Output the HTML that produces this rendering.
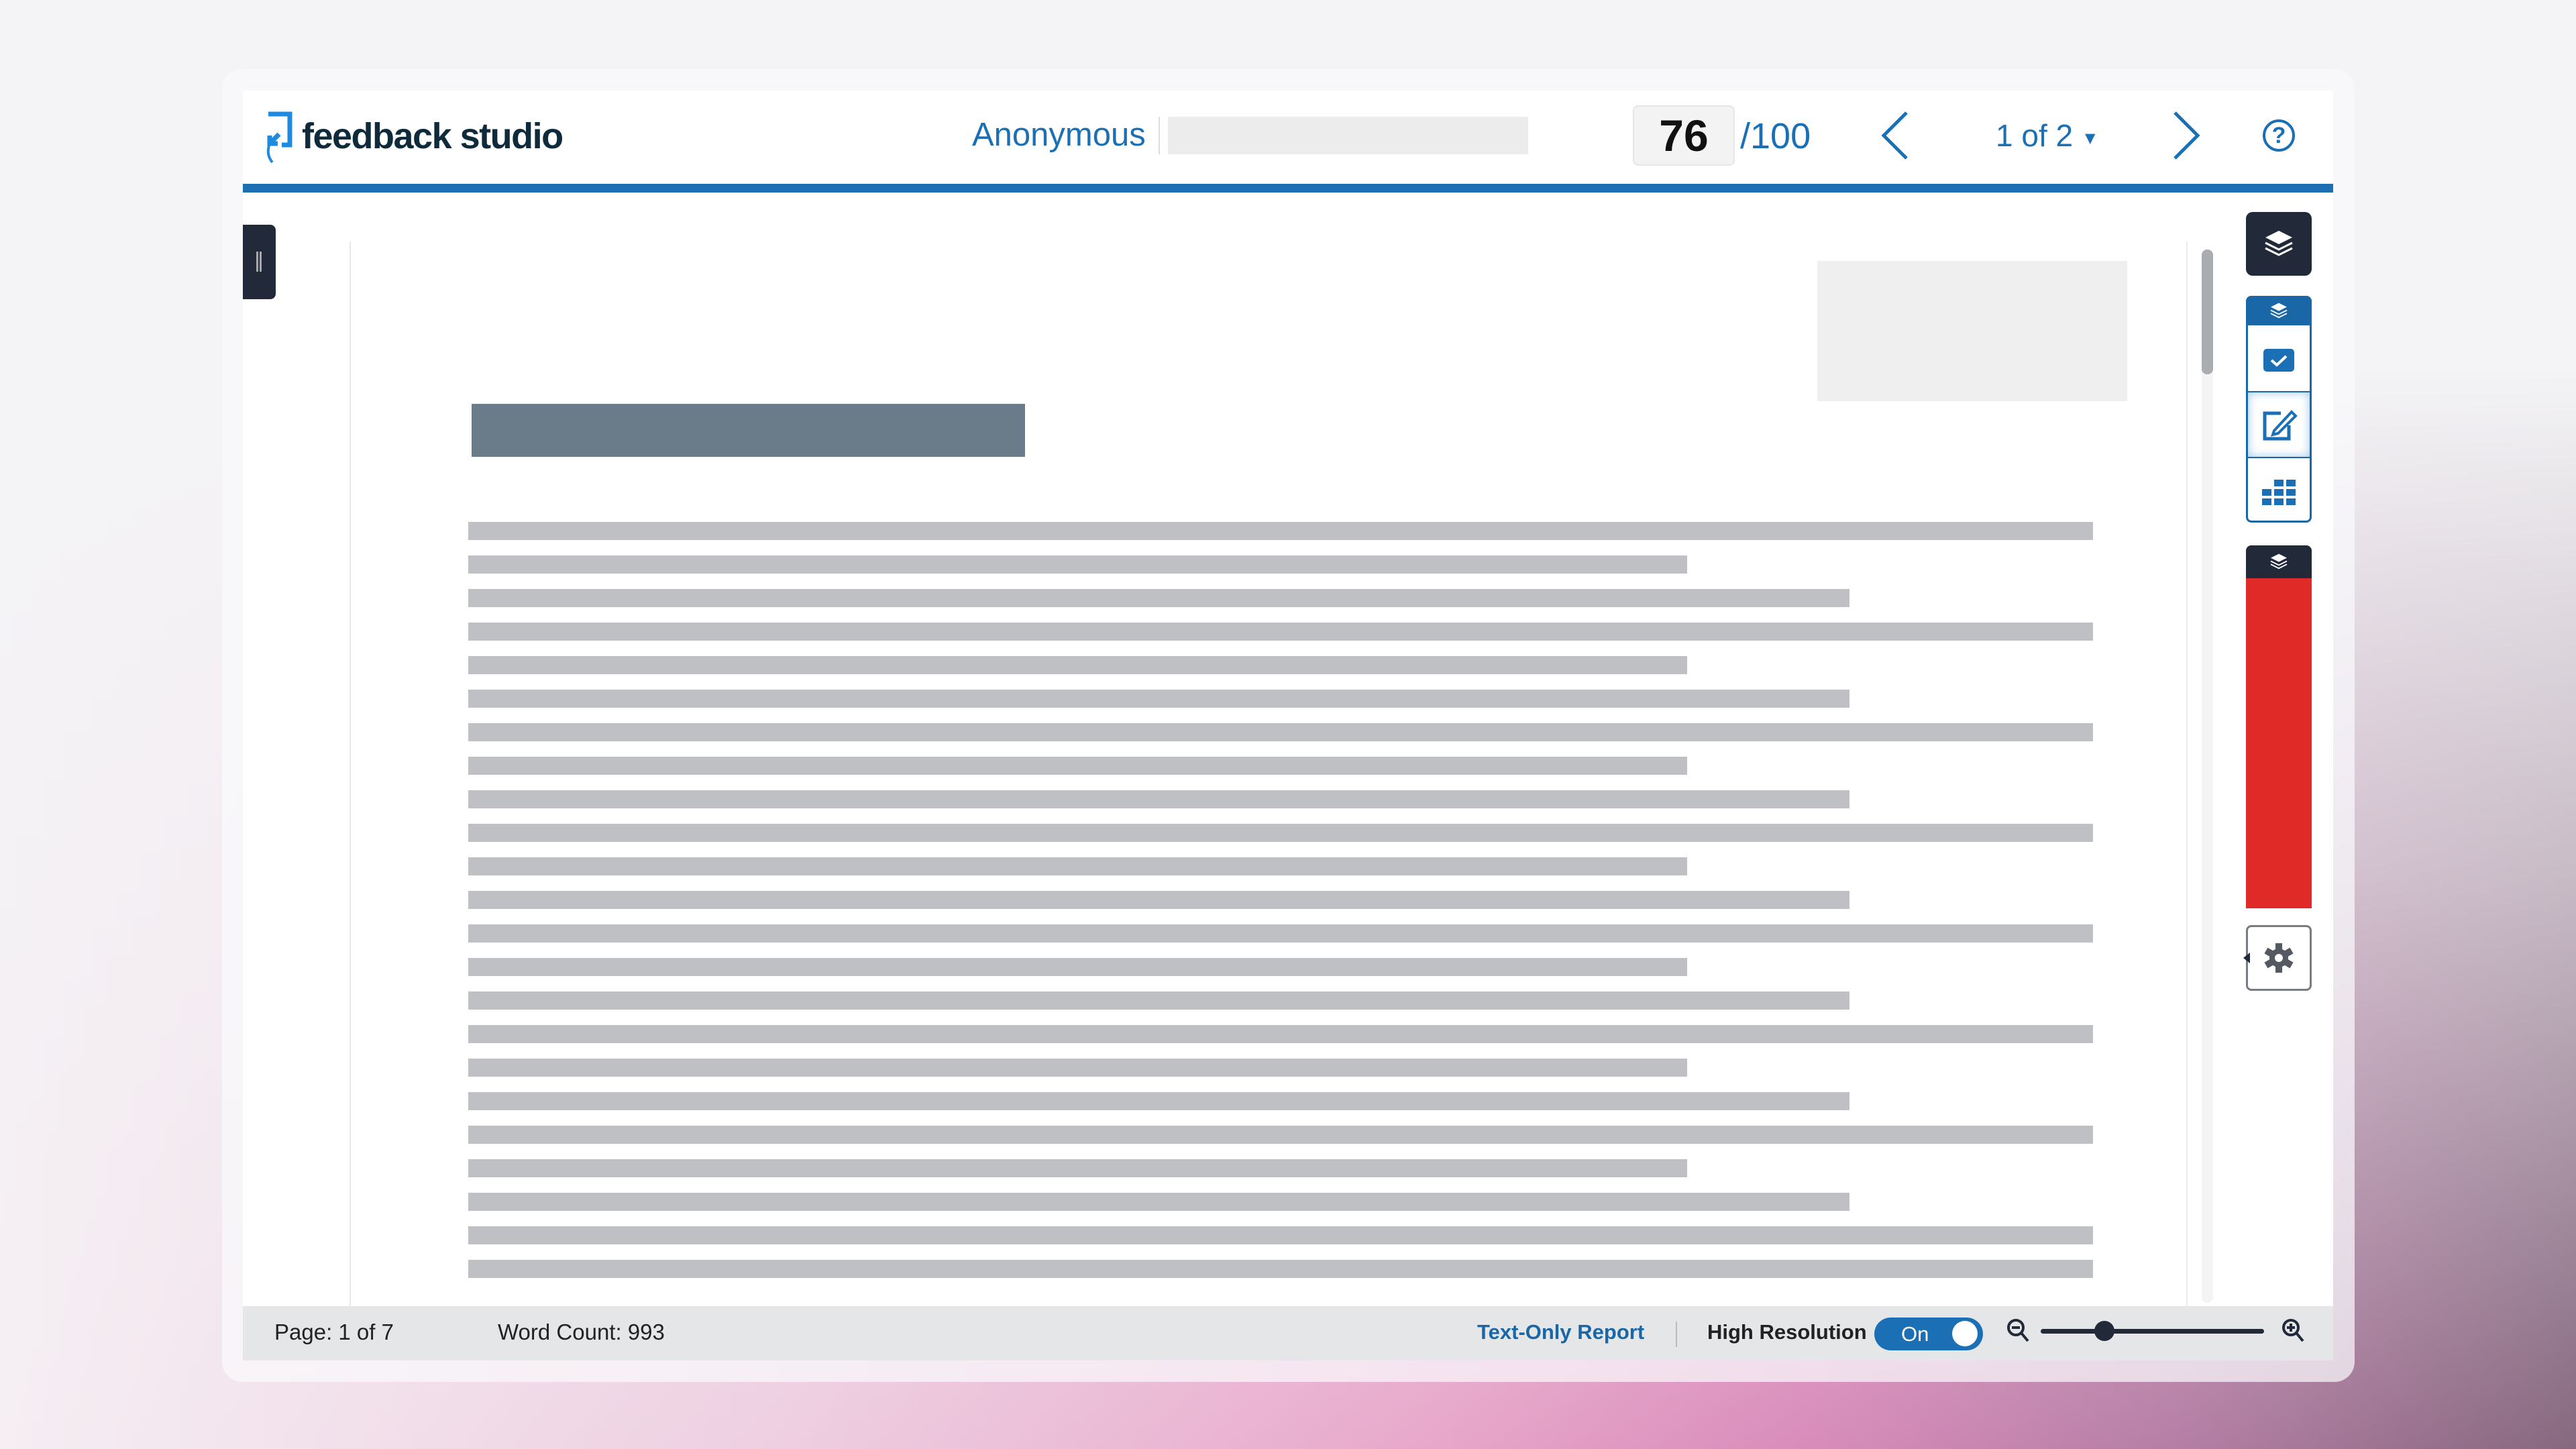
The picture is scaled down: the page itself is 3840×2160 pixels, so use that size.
<!DOCTYPE html>
<html><head><meta charset="utf-8"><style>
*{margin:0;padding:0;box-sizing:border-box}
body{width:3840px;height:2160px;overflow:hidden;position:relative;font-family:"Liberation Sans",sans-serif;
background:
linear-gradient(180deg,#f4f4f6 0%,#f4f4f6 25%,rgba(244,244,246,0.6) 60%,rgba(244,244,246,0) 100%),
linear-gradient(90deg,#f5eef3 0%,#eecfe1 30%,#e8a8cb 55%,#d98cba 70%,#b47ea4 85%,#86687f 100%);}
.abs{position:absolute}
.frame{left:331px;top:103px;width:3179px;height:1957px;border-radius:30px;background:rgba(250,250,252,.72)}
.panel{left:362px;top:135px;width:3116px;height:1893px;background:#fff}
.line{position:absolute;left:698px;height:27px;background:#bfc0c3}
.hdr{font-size:49px;color:#1a6fb5}
.tb{background:#fff;border:3px solid #1a67a8;border-radius:8px}
</style></head><body>
<div class="abs frame"></div>
<div class="abs panel"></div>
<!-- header -->
<svg class="abs" style="left:392px;top:166px" width="50" height="80" viewBox="0 0 50 80"><path d="M8 4 H40 V50 H28 M24 34 L10 48 M10 36 V48 H22" stroke="#1e8be0" stroke-width="7" fill="none"/><path d="M10 48 Q4 64 14 76" stroke="#1e8be0" stroke-width="4" fill="none"/></svg>
<div class="abs" style="left:450px;top:172px;font-size:54px;color:#0f2a3a;font-weight:bold;letter-spacing:-1.5px">feedback studio</div>
<div class="abs hdr" style="left:1449px;top:173px">Anonymous</div>
<div class="abs" style="left:1727px;top:174px;width:2px;height:56px;background:#ddd"></div>
<div class="abs" style="left:1741px;top:174px;width:537px;height:56px;background:#ececec"></div>
<div class="abs" style="left:2434px;top:157px;width:152px;height:90px;background:#f3f3f3;border:2px solid #e6e6e6;border-radius:8px;text-align:center;font-size:66px;font-weight:bold;line-height:86px;color:#111">76</div>
<div class="abs hdr" style="left:2594px;top:172px;font-size:54px">/100</div>
<svg class="abs" style="left:2800px;top:164px" width="50" height="76"><path d="M42 4 L8 38 L42 72" stroke="#1a6fb5" stroke-width="5" fill="none"/></svg>
<div class="abs hdr" style="left:2975px;top:175px;font-size:46px">1 of 2 <span style="font-size:26px;vertical-align:middle">▼</span></div>
<svg class="abs" style="left:3234px;top:164px" width="50" height="76"><path d="M8 4 L42 38 L8 72" stroke="#1a6fb5" stroke-width="5" fill="none"/></svg>
<div class="abs" style="left:3373px;top:178px;width:48px;height:48px;border:4px solid #1a6fb5;border-radius:50%;color:#1a6fb5;font-size:34px;font-weight:bold;text-align:center;line-height:40px">?</div>
<div class="abs" style="left:362px;top:274px;width:3116px;height:13px;background:#1c6fb3"></div>
<!-- left tab & lines -->
<div class="abs" style="left:362px;top:335px;width:49px;height:111px;background:#222a3a;border-radius:0 8px 8px 0"></div>
<div class="abs" style="left:382px;top:375px;width:8px;height:30px;border-left:3px solid #aaa;border-right:3px solid #aaa"></div>
<div class="abs" style="left:521px;top:360px;width:2px;height:1587px;background:#e8e8e8"></div>
<div class="abs" style="left:3259px;top:360px;width:2px;height:1587px;background:#ececec"></div>
<div class="abs" style="left:3282px;top:372px;width:17px;height:1570px;background:#f4f4f4;border-radius:8px"></div>
<div class="abs" style="left:3282px;top:372px;width:17px;height:186px;background:#a9acb0;border-radius:8px"></div>
<!-- document -->
<div class="abs" style="left:2709px;top:389px;width:462px;height:209px;background:#efefef"></div>
<div class="abs" style="left:703px;top:602px;width:825px;height:79px;background:#6a7c8a"></div>
<div id="lines"></div>
<script>
var w=[2422,1817,2059],h='';
for(var i=0;i<23;i++){var ww=(i==22)?2422:w[i%3];h+='<div class="line" style="top:'+(778+i*50)+'px;width:'+ww+'px"></div>';}
document.getElementById('lines').innerHTML=h;
</script>
<!-- right toolbar -->
<div class="abs" style="left:3348px;top:316px;width:98px;height:95px;background:#222a3a;border-radius:10px"></div>
<svg class="abs" style="left:3372px;top:340px" width="50" height="46" viewBox="0 0 50 46"><path d="M25 4 L45 14 L25 24 L5 14Z" fill="#fff"/><path d="M5 22 L25 32 L45 22 M5 30 L25 40 L45 30" stroke="#fff" stroke-width="3" fill="none"/></svg>
<div class="abs tb" style="left:3348px;top:441px;width:98px;height:338px"></div>
<div class="abs" style="left:3348px;top:441px;width:98px;height:44px;background:#1a67a8;border-radius:8px 8px 0 0"></div>
<svg class="abs" style="left:3382px;top:446px" width="30" height="34" viewBox="0 0 50 46"><path d="M25 4 L45 14 L25 24 L5 14Z" fill="#fff"/><path d="M5 22 L25 32 L45 22 M5 30 L25 40 L45 30" stroke="#fff" stroke-width="3" fill="none"/></svg>
<div class="abs" style="left:3374px;top:520px;width:46px;height:34px;background:#1a6fb5;border-radius:5px"></div>
<svg class="abs" style="left:3374px;top:520px" width="46" height="34"><path d="M12 17 L20 24 L34 11" stroke="#fff" stroke-width="4" fill="none"/></svg>
<div class="abs" style="left:3351px;top:583px;width:92px;height:100px;box-shadow:inset 0 0 14px #9cc6ea;border-top:2px solid #1a67a8;border-bottom:2px solid #1a67a8"></div>
<svg class="abs" style="left:3370px;top:608px" width="56" height="52"><path d="M30 8 H6 V46 H42 V26" stroke="#1a6fb5" stroke-width="5" fill="none"/><path d="M20 34 L46 6 L52 12 L26 38 L18 40Z" stroke="#1a6fb5" stroke-width="4" fill="none"/></svg>
<svg class="abs" style="left:3372px;top:713px" width="50" height="40"><g fill="#1a6fb5"><rect x="0" y="16" width="14" height="10"/><rect x="18" y="2" width="14" height="10"/><rect x="36" y="2" width="14" height="10"/><rect x="18" y="16" width="14" height="10"/><rect x="36" y="16" width="14" height="10"/><rect x="0" y="30" width="14" height="10"/><rect x="18" y="30" width="14" height="10"/><rect x="36" y="30" width="14" height="10"/></g></svg>
<div class="abs" style="left:3348px;top:813px;width:98px;height:541px;background:#e02a27;border-radius:8px 8px 0 0;overflow:hidden"><div style="height:49px;background:#222a3a"></div></div>
<svg class="abs" style="left:3382px;top:820px" width="30" height="34" viewBox="0 0 50 46"><path d="M25 4 L45 14 L25 24 L5 14Z" fill="#fff"/><path d="M5 22 L25 32 L45 22 M5 30 L25 40 L45 30" stroke="#fff" stroke-width="3" fill="none"/></svg>
<div class="abs" style="left:3348px;top:1379px;width:98px;height:98px;background:#fff;border:3px solid #777c84;border-radius:8px"></div>
<div class="abs" style="left:3336px;top:1420px;width:0;height:0;border:8px solid transparent;border-right:10px solid #222a3a"></div>
<svg class="abs" style="left:3373px;top:1404px" width="48" height="48" viewBox="0 0 48 48"><g fill="#555a62"><circle cx="24" cy="24" r="14"/><g id="t"><rect x="19" y="2" width="10" height="10"/><rect x="19" y="36" width="10" height="10"/></g><use href="#t" transform="rotate(60 24 24)"/><use href="#t" transform="rotate(120 24 24)"/></g><circle cx="24" cy="24" r="6" fill="#fff"/></svg>
<!-- footer -->
<div class="abs" style="left:362px;top:1947px;width:3116px;height:81px;background:#e4e6e8"></div>
<div class="abs" style="left:409px;top:1967px;font-size:33px;color:#222">Page: 1 of 7</div>
<div class="abs" style="left:742px;top:1967px;font-size:33px;color:#222">Word Count: 993</div>
<div class="abs" style="left:2202px;top:1968px;font-size:31px;color:#1a67a8;font-weight:bold">Text-Only Report</div>
<div class="abs" style="left:2498px;top:1970px;width:2px;height:38px;background:#bbb"></div>
<div class="abs" style="left:2545px;top:1968px;font-size:31px;color:#222;font-weight:bold">High Resolution</div>
<div class="abs" style="left:2794px;top:1964px;width:162px;height:49px;background:#1a6fb5;border-radius:25px;color:#fff;font-size:31px;line-height:49px;padding-left:40px">On</div>
<div class="abs" style="left:2910px;top:1969px;width:38px;height:38px;background:#fff;border-radius:50%"></div>
<svg class="abs" style="left:2990px;top:1964px" width="36" height="40"><circle cx="15" cy="15" r="11" stroke="#222a3a" stroke-width="4" fill="none"/><path d="M9 15 H21 M23 23 L33 35" stroke="#222a3a" stroke-width="4"/></svg>
<div class="abs" style="left:3042px;top:1981px;width:333px;height:7px;background:#222a3a;border-radius:4px"></div>
<div class="abs" style="left:3122px;top:1969px;width:30px;height:30px;background:#222a3a;border-radius:50%"></div>
<svg class="abs" style="left:3400px;top:1964px" width="36" height="40"><circle cx="15" cy="15" r="11" stroke="#222a3a" stroke-width="4" fill="none"/><path d="M9 15 H21 M15 9 V21 M23 23 L33 35" stroke="#222a3a" stroke-width="4"/></svg>
</body></html>
